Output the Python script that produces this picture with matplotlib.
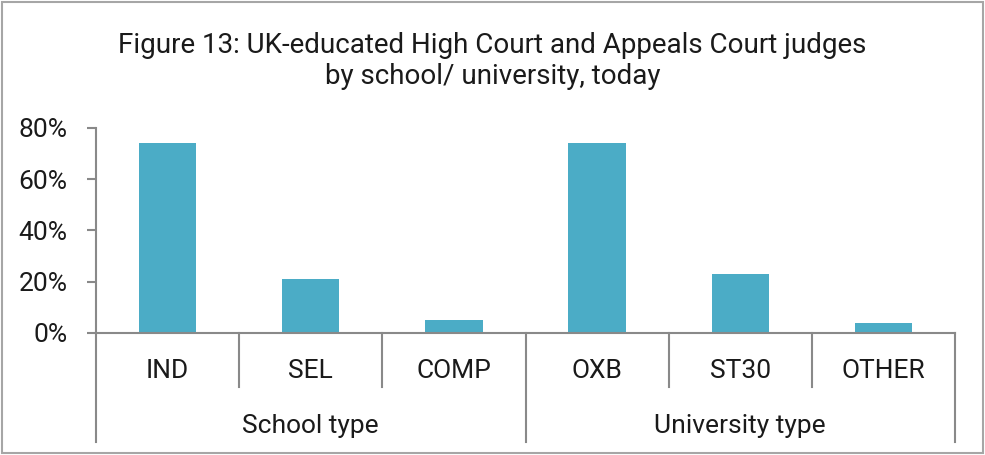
import matplotlib
matplotlib.use("Agg")
import matplotlib.pyplot as plt
from matplotlib.patches import Rectangle
import matplotlib.transforms as mtransforms

# data
categories = ["IND", "SEL", "COMP", "OXB", "ST30", "OTHER"]
values = [0.74, 0.21, 0.05, 0.74, 0.23, 0.04]
groups = ["School type", "University type"]
group_sizes = [3, 3]
yticks = [0, 0.2, 0.4, 0.6, 0.8]
ytick_labels = ["0%", "20%", "40%", "60%", "80%"]

bar_color = "#4BACC6"
axis_color = "#898989"
text_color = "#1a1a1a"

plt.rcParams["font.family"] = ["Roboto", "DejaVu Sans"]

fig = plt.figure(figsize=(9.85, 4.55), dpi=100)
ax = fig.add_axes([96 / 985, 1 - 333 / 455, (955 - 96) / 985, (333 - 128) / 455])

x = list(range(len(categories)))
ax.bar(x, values, width=0.4, color=bar_color)
ax.set_xlim(-0.5, len(categories) - 0.5)
ax.set_ylim(0, 0.8)
ax.set_yticks(yticks)
ax.set_yticklabels(ytick_labels, fontsize=19, color=text_color)
ax.tick_params(axis="y", direction="out", length=6.5, width=1.5, color=axis_color, pad=14)
ax.set_xticks([])

for s in ["top", "right"]:
    ax.spines[s].set_visible(False)
for s in ["left", "bottom"]:
    ax.spines[s].set_color(axis_color)
    ax.spines[s].set_linewidth(1.5)

# multi-level category axis
trans = mtransforms.blended_transform_factory(ax.transData, ax.transAxes)
short_y = -54 / 205
long_y = -109 / 205
label_y = -38 / 205
group_y = -93 / 205

boundaries = [i - 0.5 for i in range(len(categories) + 1)]
group_edges = [-0.5]
for n in group_sizes:
    group_edges.append(group_edges[-1] + n)

for b in boundaries:
    bottom = long_y if b in group_edges else short_y
    ax.plot([b, b], [0, bottom], transform=trans, color=axis_color,
            lw=1.5, clip_on=False)

for xi, name in zip(x, categories):
    ax.text(xi, label_y, name, transform=trans, ha="center", va="center",
            fontsize=19, color=text_color)

for i, g in enumerate(groups):
    mid = (group_edges[i] + group_edges[i + 1]) / 2
    ax.text(mid, group_y, g, transform=trans, ha="center", va="center",
            fontsize=19, color=text_color)

fig.text(0.5, 1 - 61 / 455, "Figure 13: UK-educated High Court and Appeals Court judges\nby school/ university, today",
         ha="center", va="center", fontsize=20, color=text_color, linespacing=1.15)

# outer chart border
fig.patches.append(Rectangle((2 / 985, 2 / 455), 981 / 985, 451 / 455, transform=fig.transFigure,
                             fill=False, edgecolor="#a6a6a6", linewidth=1.5))

fig.savefig("out.png", dpi=100)
